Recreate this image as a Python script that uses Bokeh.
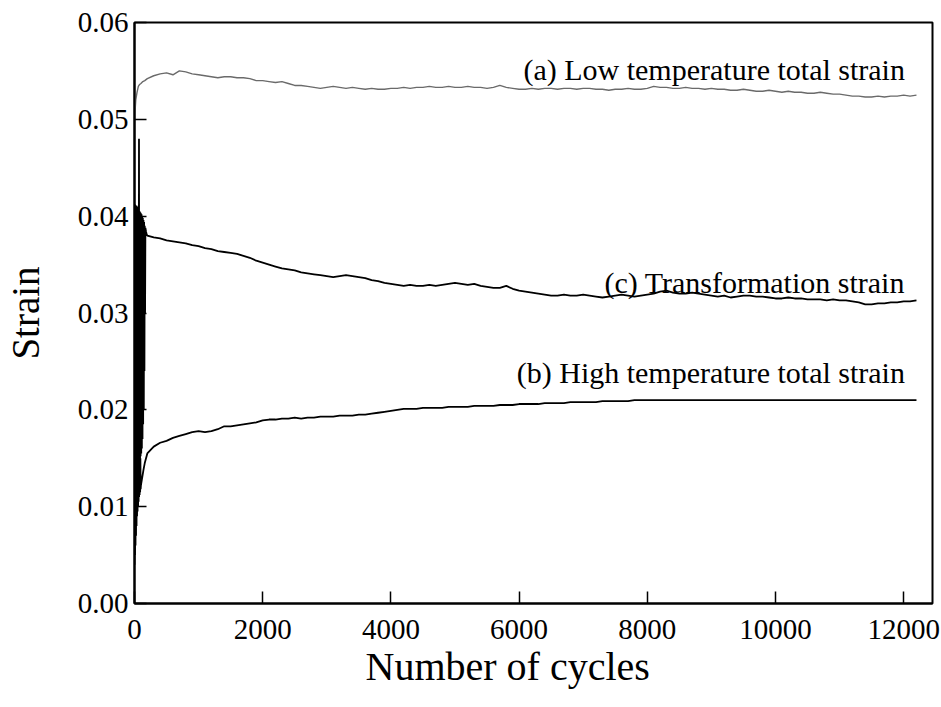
from bokeh.plotting import figure
from bokeh.models import Range1d, FixedTicker, PrintfTickFormatter, Label, Title
from bokeh.embed import file_html
from bokeh.resources import INLINE

# ---------------- data ----------------
# common sampling grid after the initial transient (cycles)
grid_cycles = list(range(200, 12201, 100))

# (a) low temperature total strain
a_early_cycles = [0, 2, 4, 10, 20, 40, 60, 80, 100, 130, 160]
a_early_vals = [0.0045, 0.0300, 0.0500, 0.0510, 0.0520, 0.0528, 0.0534, 0.0536, 0.0537, 0.0539, 0.0540]
a_vals = [
    0.0542, 0.0545, 0.0547, 0.0548, 0.0546, 0.0550, 0.0549, 0.0547, 0.0546, 0.0545,
    0.0544, 0.0543, 0.0544, 0.0544, 0.0543, 0.0543, 0.0542, 0.0540, 0.0540, 0.0539,
    0.0538, 0.0539, 0.0537, 0.0535, 0.0535, 0.0534, 0.0533, 0.0532, 0.0533, 0.0534,
    0.0533, 0.0532, 0.0533, 0.0532, 0.0531, 0.0532, 0.0531, 0.0531, 0.0532, 0.0532,
    0.0533, 0.0532, 0.0533, 0.0533, 0.0534, 0.0533, 0.0533, 0.0534, 0.0533, 0.0533,
    0.0534, 0.0533, 0.0533, 0.0532, 0.0533, 0.0535, 0.0533, 0.0532, 0.0531, 0.0531,
    0.0532, 0.0531, 0.0532, 0.0532, 0.0531, 0.0532, 0.0532, 0.0531, 0.0532, 0.0532,
    0.0531, 0.0531, 0.0530, 0.0531, 0.0531, 0.0532, 0.0531, 0.0531, 0.0532, 0.0534,
    0.0533, 0.0533, 0.0532, 0.0532, 0.0533, 0.0532, 0.0532, 0.0531, 0.0532, 0.0531,
    0.0531, 0.0530, 0.0530, 0.0531, 0.0530, 0.0529, 0.0529, 0.0530, 0.0529, 0.0528,
    0.0529, 0.0528, 0.0528, 0.0527, 0.0527, 0.0528, 0.0527, 0.0526, 0.0526, 0.0525,
    0.0524, 0.0524, 0.0523, 0.0523, 0.0524, 0.0523, 0.0524, 0.0524, 0.0525, 0.0524,
    0.0525,
]

# (c) transformation strain
c_early_cycles = [0, 5, 10, 15, 20, 25, 30, 35, 40, 45, 50, 55, 60, 65, 70, 75, 80, 85,
                  90, 95, 100, 105, 110, 115, 120, 125, 130, 135, 140, 145, 150, 155,
                  160, 165, 170, 180, 190]
c_early_vals = [0.0410, 0.0120, 0.0412, 0.0110, 0.0408, 0.0125, 0.0411, 0.0130, 0.0409,
                0.0135, 0.0410, 0.0140, 0.0408, 0.0145, 0.0480, 0.0148, 0.0405, 0.0150,
                0.0404, 0.0152, 0.0403, 0.0155, 0.0402, 0.0160, 0.0400, 0.0170, 0.0398,
                0.0185, 0.0396, 0.0200, 0.0394, 0.0240, 0.0390, 0.0300, 0.0388, 0.0384,
                0.0381]
c_vals = [
    0.0380, 0.0378, 0.0377, 0.0375, 0.0374, 0.0373, 0.0372, 0.0370, 0.0369, 0.0367,
    0.0366, 0.0364, 0.0363, 0.0362, 0.0361, 0.0359, 0.0357, 0.0354, 0.0352, 0.0350,
    0.0348, 0.0346, 0.0345, 0.0344, 0.0342, 0.0341, 0.0340, 0.0339, 0.0338, 0.0337,
    0.0338, 0.0339, 0.0338, 0.0337, 0.0336, 0.0334, 0.0333, 0.0331, 0.0330, 0.0329,
    0.0328, 0.0329, 0.0328, 0.0328, 0.0329, 0.0328, 0.0329, 0.0330, 0.0331, 0.0330,
    0.0329, 0.0330, 0.0328, 0.0327, 0.0326, 0.0326, 0.0328, 0.0325, 0.0323, 0.0322,
    0.0321, 0.0320, 0.0319, 0.0318, 0.0318, 0.0319, 0.0318, 0.0318, 0.0319, 0.0318,
    0.0317, 0.0316, 0.0317, 0.0318, 0.0319, 0.0318, 0.0317, 0.0318, 0.0319, 0.0320,
    0.0322, 0.0323, 0.0321, 0.0320, 0.0320, 0.0321, 0.0320, 0.0319, 0.0318, 0.0317,
    0.0318, 0.0316, 0.0317, 0.0318, 0.0318, 0.0317, 0.0317, 0.0316, 0.0315, 0.0315,
    0.0316, 0.0315, 0.0315, 0.0314, 0.0314, 0.0314, 0.0313, 0.0314, 0.0313, 0.0313,
    0.0312, 0.0311, 0.0309, 0.0309, 0.0310, 0.0310, 0.0311, 0.0311, 0.0312, 0.0312,
    0.0313,
]

# (b) high temperature total strain
b_early_cycles = [0, 4, 8, 12, 16, 20, 24, 28, 32, 36, 40, 44, 48, 52, 56, 60, 64, 68,
                  72, 76, 80, 84, 88, 92, 96, 100, 120, 140, 160, 180]
b_early_vals = [0.0040, 0.0200, 0.0050, 0.0220, 0.0060, 0.0210, 0.0070, 0.0230, 0.0080,
                0.0200, 0.0090, 0.0190, 0.0095, 0.0200, 0.0100, 0.0180, 0.0105, 0.0190,
                0.0110, 0.0170, 0.0112, 0.0160, 0.0115, 0.0150, 0.0118, 0.0122, 0.0130,
                0.0138, 0.0145, 0.0150]
b_vals = [
    0.0155, 0.0162, 0.0166, 0.0168, 0.0171, 0.0173, 0.0175, 0.0177, 0.0178, 0.0177,
    0.0178, 0.0180, 0.0183, 0.0183, 0.0184, 0.0185, 0.0186, 0.0187, 0.0189, 0.0190,
    0.0190, 0.0191, 0.0191, 0.0192, 0.0191, 0.0192, 0.0192, 0.0193, 0.0193, 0.0193,
    0.0194, 0.0194, 0.0194, 0.0195, 0.0195, 0.0196, 0.0197, 0.0198, 0.0199, 0.0200,
    0.0201, 0.0201, 0.0201, 0.0202, 0.0202, 0.0202, 0.0202, 0.0203, 0.0203, 0.0203,
    0.0203, 0.0204, 0.0204, 0.0204, 0.0204, 0.0205, 0.0205, 0.0205, 0.0206, 0.0206,
    0.0206, 0.0206, 0.0207, 0.0207, 0.0207, 0.0207, 0.0208, 0.0208, 0.0208, 0.0208,
    0.0208, 0.0209, 0.0209, 0.0209, 0.0209, 0.0209, 0.0210, 0.0210, 0.0210, 0.0210,
    0.0210, 0.0210, 0.0210, 0.0210, 0.0210, 0.0210, 0.0210, 0.0210, 0.0210, 0.0210,
    0.0210, 0.0210, 0.0210, 0.0210, 0.0210, 0.0210, 0.0210, 0.0210, 0.0210, 0.0210,
    0.0210, 0.0210, 0.0210, 0.0210, 0.0210, 0.0210, 0.0210, 0.0210, 0.0210, 0.0210,
    0.0210, 0.0210, 0.0210, 0.0210, 0.0210, 0.0210, 0.0210, 0.0210, 0.0210, 0.0210,
    0.0210,
]

x_ticks = [0, 2000, 4000, 6000, 8000, 10000, 12000]
y_ticks = [0.00, 0.01, 0.02, 0.03, 0.04, 0.05, 0.06]

x_title = "Number of cycles"
y_title = "Strain"
labels = [
    ("(a) Low temperature total strain", 12020, 0.0551),
    ("(c) Transformation strain", 12020, 0.0332),
    ("(b) High temperature total strain", 12020, 0.0239),
]

# ---------------- figure ----------------
FONT = "Liberation Serif"

p = figure(width=941, height=707, output_backend="svg", toolbar_location=None,
           x_range=Range1d(0, 12450), y_range=Range1d(0, 0.06),
           min_border_left=134, min_border_right=9, min_border_top=22,
           min_border_bottom=104)
p.background_fill_color = "white"
p.border_fill_color = "white"
p.outline_line_color = "black"
p.outline_line_width = 2
p.xgrid.visible = False
p.ygrid.visible = False

p.line(a_early_cycles + grid_cycles, a_early_vals + a_vals, line_color="#6a6a6a", line_width=1.4)
p.line(c_early_cycles + grid_cycles, c_early_vals + c_vals, line_color="black", line_width=1.8)
p.line(b_early_cycles + grid_cycles, b_early_vals + b_vals, line_color="black", line_width=1.8)

for ax in (p.xaxis[0], p.yaxis[0]):
    ax.axis_line_color = "black"
    ax.axis_line_width = 2
    ax.major_tick_in = 12
    ax.major_tick_out = 0
    ax.major_tick_line_width = 1.5
    ax.minor_tick_line_color = None
    ax.major_label_text_font = FONT
    ax.major_label_text_font_size = "29px"
    ax.major_label_text_color = "black"
    ax.axis_label_text_font = FONT
    ax.axis_label_text_font_style = "normal"
    ax.axis_label_text_color = "black"

p.xaxis.ticker = FixedTicker(ticks=x_ticks)
p.yaxis.ticker = FixedTicker(ticks=y_ticks)
p.yaxis.formatter = PrintfTickFormatter(format="%.2f")
p.yaxis.axis_label = y_title
p.yaxis.axis_label_text_font_size = "39px"
p.xaxis.major_label_standoff = 16
p.yaxis.major_label_standoff = 6
p.yaxis.axis_label_standoff = 28

# x-axis title as a Title below the axis (slightly left of centre, as in the original)
p.add_layout(Title(text=x_title, align="left", offset=231, standoff=0,
                   text_font=FONT, text_font_size="40px", text_font_style="normal",
                   text_color="black"), "below")

for txt, xx, yy in labels:
    p.add_layout(Label(x=xx, y=yy, text=txt, text_align="right",
                       text_baseline="alphabetic", text_font=FONT,
                       text_font_size="30px", text_color="black"))

open("out.html", "w").write(file_html(p, INLINE))
